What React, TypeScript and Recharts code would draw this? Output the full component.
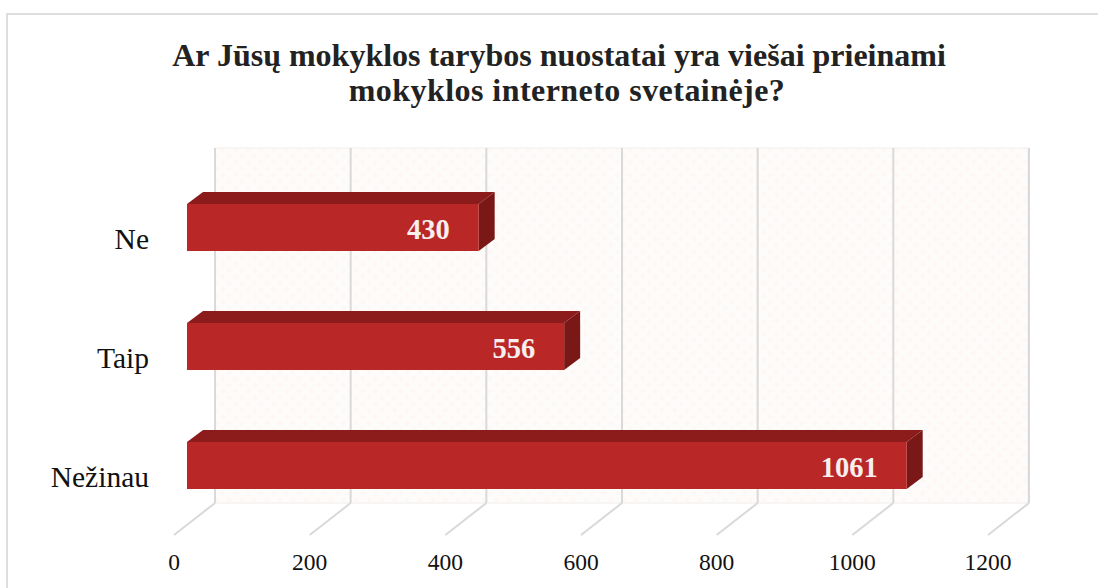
import React from 'react';
import { BarChart, Bar, XAxis, YAxis, CartesianGrid, LabelList } from 'recharts';

const categories = ['Ne', 'Taip', 'Nežinau'];
const responses = [430, 556, 1061];
const valueTicks = [0, 200, 400, 600, 800, 1000, 1200];

const rows = categories.map((name, i) => ({ name, value: responses[i] }));

const SERIF = '"Liberation Serif", "Times New Roman", serif';

// offsets of the fake 3D box, relative to the plot area
const WALL_DX = 28;
const FRONT_DX = -13;
const WALL_TOP = 148;
const WALL_BOTTOM = 503;
const FLOOR_BOTTOM = 535;

const Bar3D = (props: any) => {
  const { x, y, width, height } = props;
  const dx = 16;
  const dy = 12;
  const right = x + width;
  return (
    <g>
      <polygon
        points={`${x},${y} ${x + dx},${y - dy} ${right + dx},${y - dy} ${right},${y}`}
        fill="#8c1c1b"
      />
      <polygon
        points={`${right},${y} ${right + dx},${y - dy} ${right + dx},${y + height - dy} ${right},${y + height}`}
        fill="#7a1817"
      />
      <rect x={x} y={y} width={width} height={height} fill="#b92727" />
    </g>
  );
};

const GridLine = (props: any) => {
  const x = props.x1;
  const back = x + WALL_DX;
  const front = x + FRONT_DX;
  return (
    <g stroke="#d9d9d9" strokeWidth={2} fill="none">
      <line x1={back} y1={WALL_TOP} x2={back} y2={WALL_BOTTOM} />
      <line x1={back} y1={WALL_BOTTOM} x2={front} y2={FLOOR_BOTTOM} />
    </g>
  );
};

const ValueTick = (props: any) => (
  <text
    x={props.x + FRONT_DX}
    y={570}
    textAnchor="middle"
    fontFamily={SERIF}
    fontSize={23.5}
    fill="#111"
  >
    {props.payload.value}
  </text>
);

export default function App() {
  return (
    <div style={{ position: 'absolute', left: 0, top: 0, width: 1098, height: 588, background: '#fff', overflow: 'hidden' }}>
      <div
        style={{
          position: 'absolute',
          left: 6,
          top: 13,
          width: 1200,
          height: 700,
          border: '2px solid #dedede',
          boxSizing: 'border-box',
        }}
      />
      <div
        style={{
          position: 'absolute',
          left: 0,
          top: 38,
          width: 1118,
          textAlign: 'center',
          fontFamily: SERIF,
          fontWeight: 'bold',
          fontSize: 32,
          lineHeight: '35px',
          color: '#222',
        }}
      >
        Ar Jūsų mokyklos tarybos nuostatai yra viešai prieinami
        <br />
        <span style={{ position: 'relative', left: 8, letterSpacing: 0.45 }}>mokyklos interneto svetainėje?</span>
      </div>
      <svg width={1098} height={588} style={{ position: 'absolute', left: 0, top: 0 }}>
        <defs>
          <pattern id="wallDots" width={9} height={9} patternUnits="userSpaceOnUse" patternTransform="rotate(45)">
            <rect width={9} height={9} fill="#fefcfa" />
            <rect width={4.5} height={4.5} fill="#fdf8f5" />
          </pattern>
        </defs>
        <rect x={215} y={148} width={813} height={355} fill="url(#wallDots)" stroke="#f1eeec" strokeWidth={1} />
      </svg>
      <div style={{ position: 'absolute', left: 0, top: 0 }}>
        <BarChart
          width={1098}
          height={588}
          data={rows}
          layout="vertical"
          margin={{ top: 168, right: 97, bottom: 0, left: 0 }}
          style={{ overflow: 'visible' }}
        >
          <CartesianGrid horizontal={false} vertical={GridLine} />
          <XAxis
            type="number"
            domain={[0, 1200]}
            ticks={valueTicks}
            axisLine={false}
            tickLine={false}
            tick={ValueTick}
            height={63}
          />
          <YAxis
            type="category"
            dataKey="name"
            width={187}
            axisLine={false}
            tickLine={false}
            tickSize={0}
            tickMargin={38}
            tick={{ fontFamily: SERIF, fontSize: 29.5, fill: '#111', dy: 11 }}
          />
          <Bar dataKey="value" barSize={47} shape={Bar3D} isAnimationActive={false}>
            <LabelList
              dataKey="value"
              position="insideRight"
              offset={29}
              dy={1}
              style={{ fontFamily: SERIF, fontWeight: 'bold', fontSize: 28.5, fill: '#f7eeee' }}
            />
          </Bar>
        </BarChart>
      </div>
    </div>
  );
}
